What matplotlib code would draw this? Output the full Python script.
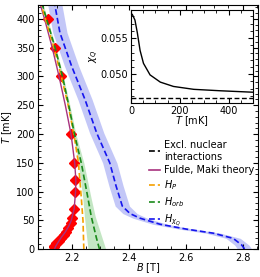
import numpy as np
import matplotlib
matplotlib.use("Agg")
import matplotlib.pyplot as plt
from matplotlib.ticker import MultipleLocator
from matplotlib.lines import Line2D

# ---- data ----
exp_T = [200, 150, 120, 100, 70, 54, 45, 36.5, 30.6, 25, 19, 14.4, 10.4, 5.7, 3.5, 300, 350, 400]
exp_B = [2.199, 2.208, 2.2105, 2.2105, 2.208, 2.201, 2.1965, 2.189, 2.181, 2.173, 2.1635,
         2.1545, 2.147, 2.140, 2.137, 2.162, 2.141, 2.118]

fm_T = [0, 5, 10, 20, 30, 40, 50, 70, 100, 120, 150, 200, 250, 300, 350, 400, 425]
fm_B = [2.140, 2.144, 2.150, 2.163, 2.178, 2.190, 2.199, 2.209, 2.214, 2.215, 2.211,
        2.198, 2.178, 2.156, 2.132, 2.105, 2.090]

hp_T = [0, 50, 90, 150, 200, 250, 300, 350, 400, 425]
hp_B = [2.243, 2.240, 2.234, 2.224, 2.208, 2.188, 2.164, 2.138, 2.108, 2.093]

horb_T = [0, 20, 57, 90, 150, 200, 250, 300, 350, 400, 425]
horb_B = [2.298, 2.287, 2.269, 2.257, 2.234, 2.210, 2.190, 2.168, 2.142, 2.112, 2.097]
horb_lo = [0.040, 0.034, 0.024, 0.018, 0.010, 0.005, 0.004, 0.003, 0.003, 0.003, 0.003]
horb_hi = [0.022, 0.020, 0.014, 0.011, 0.009, 0.005, 0.004, 0.003, 0.003, 0.003, 0.003]

hchi_T = [0, 2, 7.5, 19, 28, 35, 43.5, 54, 62, 75, 110, 150, 202, 260, 318, 376, 425]
hchi_B = [2.806, 2.805, 2.797, 2.767, 2.697, 2.603, 2.510, 2.440, 2.405, 2.378, 2.356,
          2.334, 2.288, 2.247, 2.200, 2.159, 2.141]
hchi_err = 0.025

ins_T = [0, 5, 16, 26, 37, 51, 78, 120, 174, 257, 367, 500]
ins_chi = [0.0583, 0.0583, 0.0575, 0.0557, 0.0533, 0.0515, 0.0499, 0.0489, 0.0483,
           0.0479, 0.0477, 0.0475]
ins_excl = 0.0467

fs = 7
plt.rcParams['font.size'] = fs
plt.rcParams['mathtext.fontset'] = 'dejavusans'

fig = plt.figure(figsize=(2.60, 2.77), dpi=100)
ax = fig.add_axes([0.146, 0.100, 0.845, 0.882])

purple = '#a8327e'
orange = '#f5a000'
green = '#1a8a1a'
blue = '#1515ee'
dash = (0, (3.5, 1.8))

ax.fill_betweenx(hchi_T, np.array(hchi_B) - hchi_err, np.array(hchi_B) + hchi_err,
                 color='#aab0f5', alpha=0.7, lw=0)
ax.fill_betweenx(horb_T, np.array(horb_B) - np.array(horb_lo),
                 np.array(horb_B) + np.array(horb_hi), color='#b5e0b5', alpha=0.8, lw=0)
ax.plot(exp_B, exp_T, ls='none', marker='D', ms=5, color='red', mec='red')
ax.plot(fm_B, fm_T, color=purple, lw=1.0)
ax.plot(hp_B, hp_T, color=orange, lw=1.2, ls=dash)
ax.plot(horb_B, horb_T, color=green, lw=1.2, ls=dash)
ax.plot(hchi_B, hchi_T, color=blue, lw=1.2, ls=dash)

ax.set_xlim(2.082, 2.853)
ax.set_ylim(0, 424)
ax.xaxis.set_major_locator(MultipleLocator(0.2))
ax.xaxis.set_minor_locator(MultipleLocator(0.05))
ax.yaxis.set_major_locator(MultipleLocator(50))
ax.yaxis.set_minor_locator(MultipleLocator(10))
ax.tick_params(which='both', direction='in', top=True, right=True, labelsize=fs, pad=2.5)
ax.tick_params(which='major', length=3.5)
ax.tick_params(which='minor', length=2)
ax.set_xlabel('$B$ [T]', fontsize=fs, labelpad=-1)
ax.set_ylabel('$T$ [mK]', fontsize=fs, labelpad=1)

handles = [
    Line2D([], [], color='black', lw=1.2, ls=dash),
    Line2D([], [], color=purple, lw=1.2),
    Line2D([], [], color=orange, lw=1.2, ls=dash),
    Line2D([], [], color=green, lw=1.2, ls=dash),
    Line2D([], [], color=blue, lw=1.2, ls=dash),
]
labels = ['Excl. nuclear\ninteractions', 'Fulde, Maki theory', '$H_P$', '$H_{orb}$',
          '$H_{\\chi_Q}$']
ax.legend(handles, labels, loc='upper left', bbox_to_anchor=(0.475, 0.475), frameon=False,
          fontsize=fs, handlelength=1.1, handletextpad=0.4, labelspacing=0.35,
          borderpad=0.2)

# inset
ins = fig.add_axes([0.504, 0.628, 0.469, 0.336])
ins.plot(ins_T, ins_chi, color='black', lw=1.0)
ins.axhline(ins_excl, color='black', lw=1.0, ls=dash)
ins.set_xlim(0, 500)
ins.set_ylim(0.0460, 0.0589)
ins.xaxis.set_major_locator(MultipleLocator(200))
ins.xaxis.set_minor_locator(MultipleLocator(50))
ins.yaxis.set_major_locator(MultipleLocator(0.005))
ins.yaxis.set_minor_locator(MultipleLocator(0.001))
ins.yaxis.set_major_formatter(matplotlib.ticker.FormatStrFormatter('%.3f'))
ins.tick_params(which='both', direction='in', top=True, right=True, labelsize=fs, pad=2)
ins.tick_params(which='major', length=3.5)
ins.tick_params(which='minor', length=2)
ins.set_xlabel('$T$ [mK]', fontsize=fs, labelpad=-1)
ins.set_ylabel('$\\chi_Q$', fontsize=fs, labelpad=0)

fig.savefig('out.png', dpi=100)
